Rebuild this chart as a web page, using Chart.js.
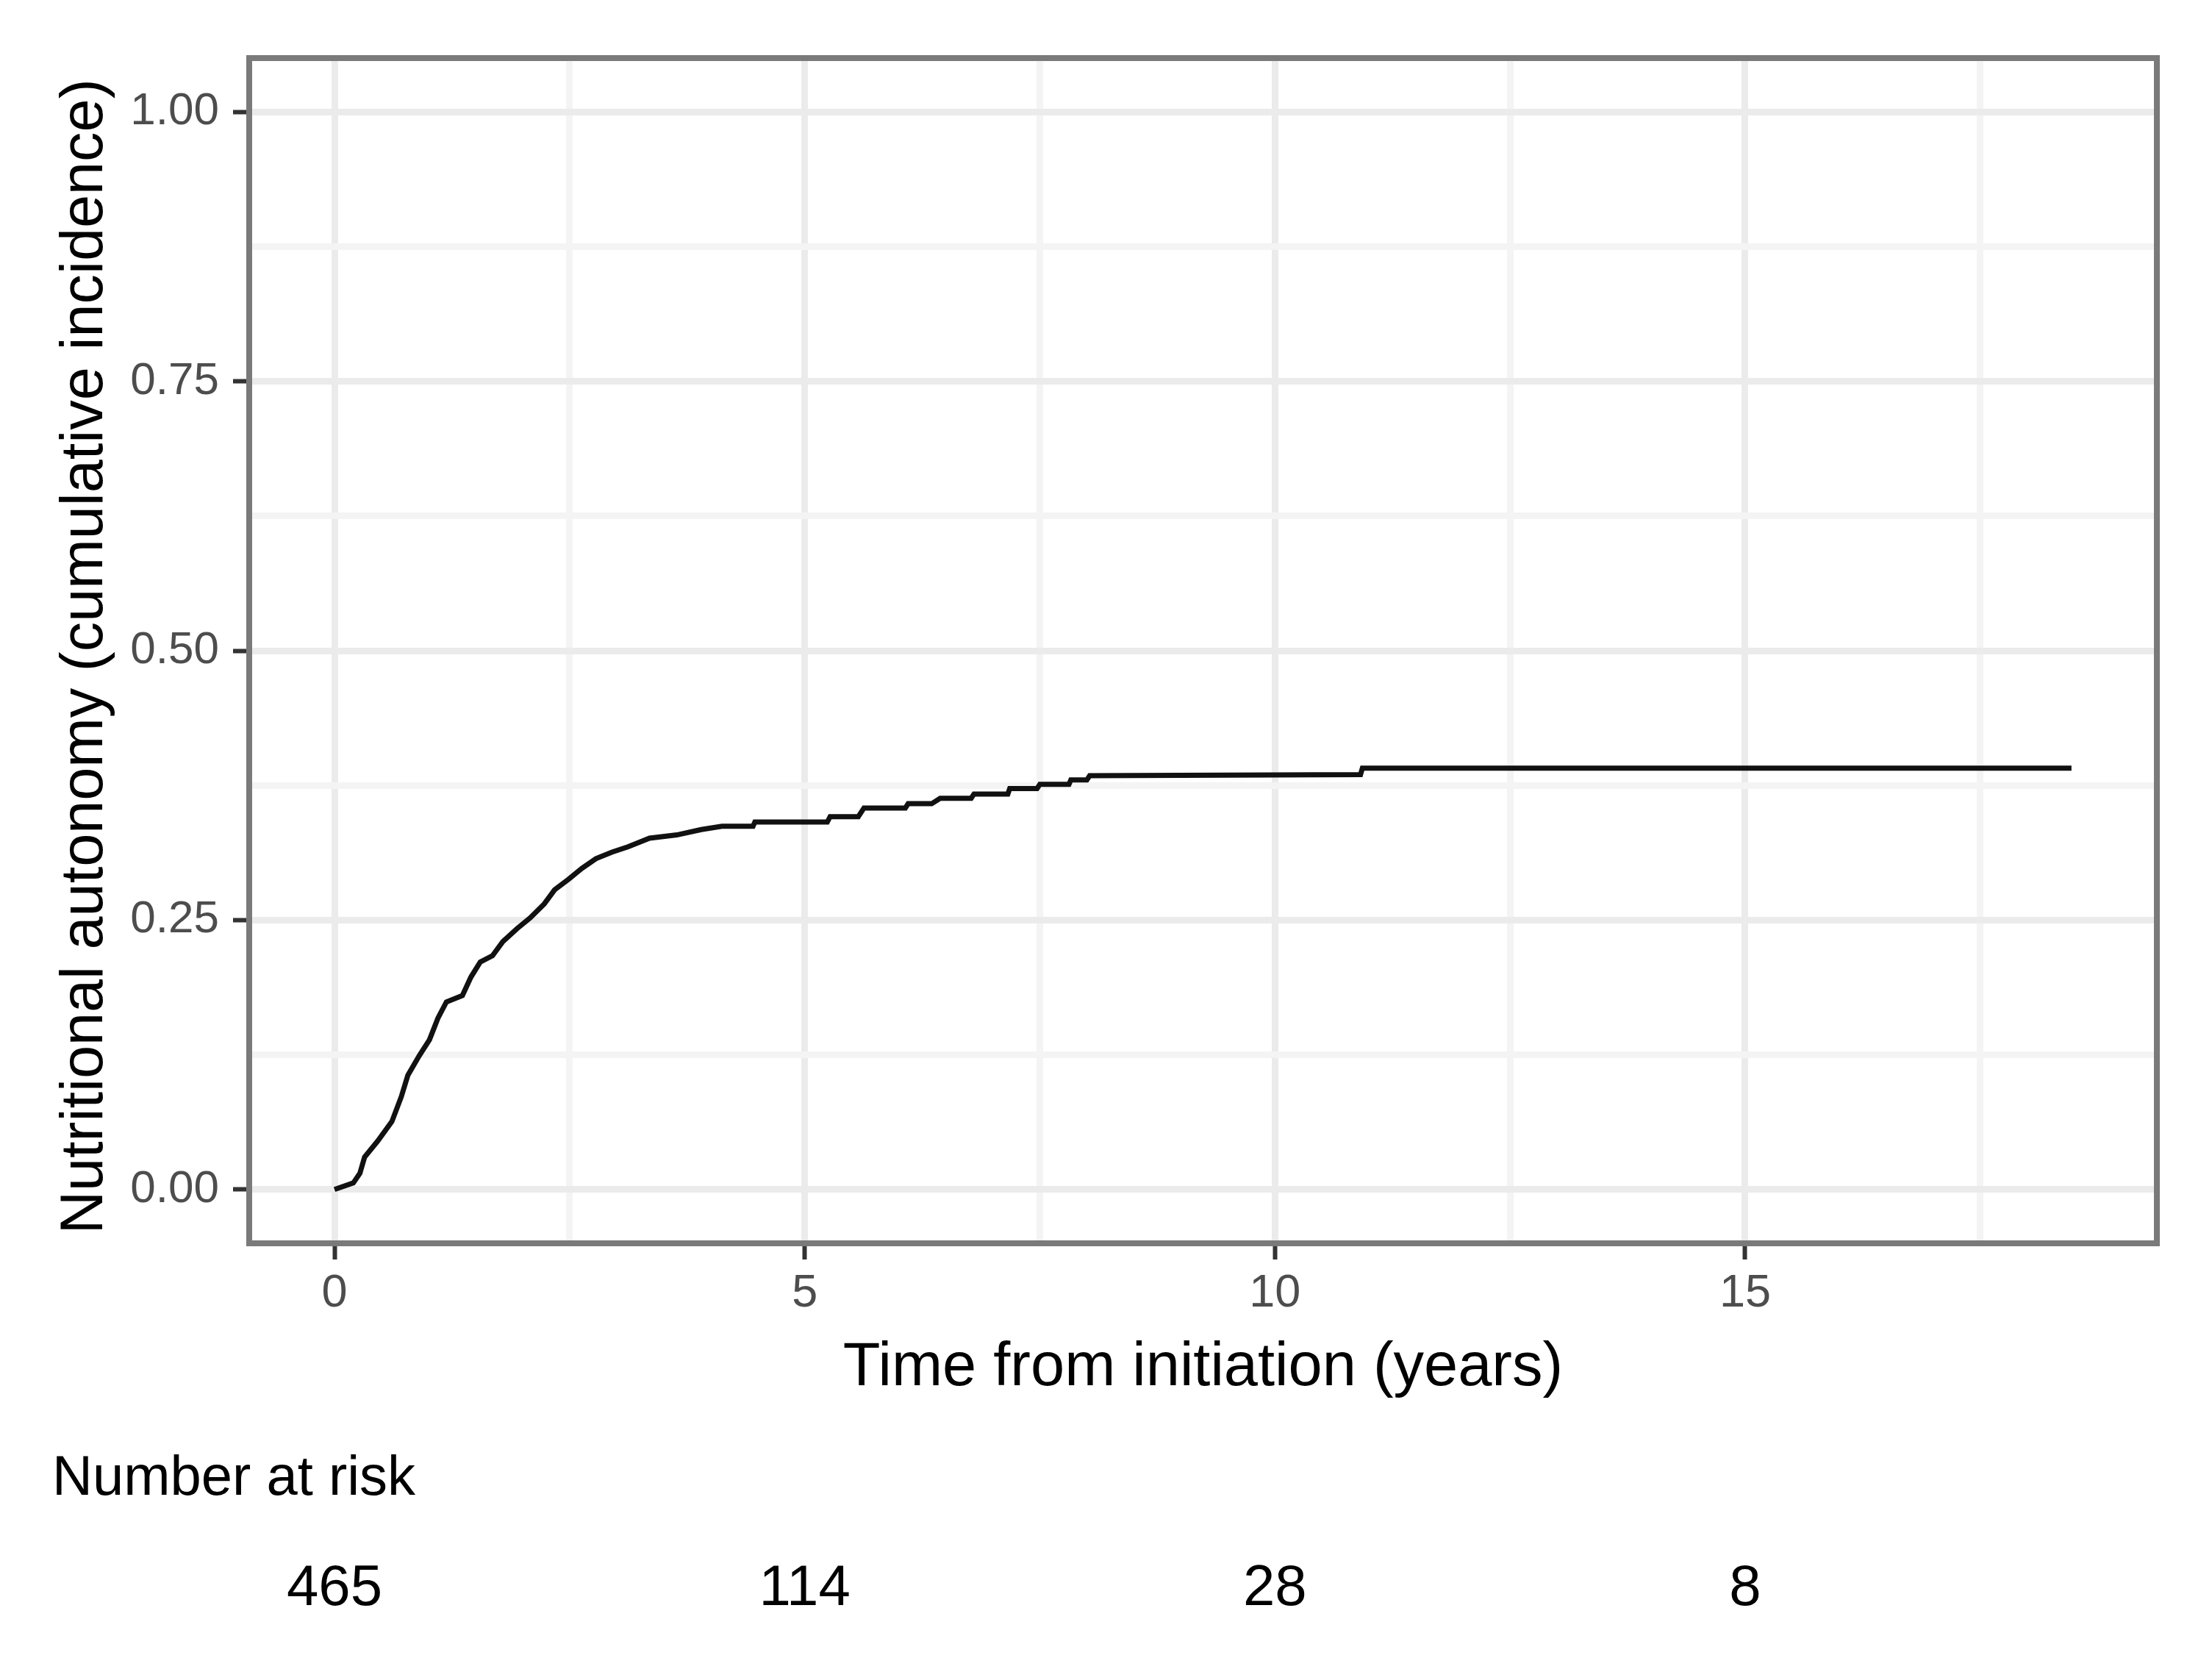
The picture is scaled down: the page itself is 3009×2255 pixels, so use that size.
<!DOCTYPE html>
<html>
<head>
<meta charset="utf-8">
<script src="https://cdn.jsdelivr.net/npm/chart.js@4"></script>
<style>
  html, body { margin: 0; padding: 0; background: #fff; }
  #wrap { width: 3009px; height: 2255px; }
</style>
</head>
<body>
<div id="wrap"><canvas id="grafico" width="3009" height="2255"></canvas></div>
<script>
// cumulative incidence curve (years, cumulative incidence)
const tempos = [0, 0.20, 0.27, 0.32, 0.46, 0.61, 0.71, 0.78, 0.90, 1.01, 1.10, 1.19, 1.36, 1.45, 1.55, 1.68, 1.79, 1.94, 2.08, 2.23, 2.34, 2.49, 2.63, 2.78, 2.95, 3.12, 3.35, 3.64, 3.90, 4.12, 4.45, 4.47, 5.24, 5.27, 5.57, 5.63, 6.07, 6.10, 6.35, 6.44, 6.77, 6.80, 7.16, 7.18, 7.47, 7.50, 7.81, 7.83, 8.00, 8.03, 10.91, 10.93, 18.47];
const incidencia = [0, 0.006, 0.015, 0.030, 0.045, 0.063, 0.086, 0.106, 0.124, 0.139, 0.159, 0.174, 0.180, 0.197, 0.211, 0.217, 0.230, 0.242, 0.252, 0.265, 0.278, 0.288, 0.298, 0.307, 0.313, 0.318, 0.326, 0.329, 0.334, 0.337, 0.337, 0.341, 0.341, 0.346, 0.346, 0.354, 0.354, 0.358, 0.358, 0.363, 0.363, 0.367, 0.367, 0.372, 0.372, 0.376, 0.376, 0.380, 0.380, 0.384, 0.385, 0.391, 0.391];

// number at risk table
const tempoRisco = [0, 5, 10, 15];
const numeroRisco = [465, 114, 28, 8];

// axis ticks (major = labelled, grid = major + minor)
const xMajor = [0, 5, 10, 15];
const xGrid = [0, 2.5, 5, 7.5, 10, 12.5, 15, 17.5];
const yMajor = [0, 0.25, 0.5, 0.75, 1];
const yGrid = [0, 0.125, 0.25, 0.375, 0.5, 0.625, 0.75, 0.875, 1];

const fonte = '"Liberation Sans", Arial, sans-serif';

function ehMajor(lista, v) {
    return lista.some(m => Math.abs(m - v) < 1e-9);
}

const textosExtras = {
    id: "textosExtras",
    afterDraw(chart) {
        const ctx = chart.ctx;
        const area = chart.chartArea;
        const x = chart.scales.x;

        // panel border
        ctx.save();
        ctx.strokeStyle = "#7a7a7a";
        ctx.lineWidth = 8;
        ctx.strokeRect(area.left, area.top, area.right - area.left, area.bottom - area.top);

        ctx.fillStyle = "#000";
        // y title
        ctx.save();
        ctx.translate(139, (area.top + area.bottom) / 2 + 8);
        ctx.rotate(-Math.PI / 2);
        ctx.font = "81px " + fonte;
        ctx.textAlign = "center";
        ctx.textBaseline = "alphabetic";
        ctx.fillText("Nutritional autonomy (cumulative incidence)", 0, 0);
        ctx.restore();

        // x title
        ctx.font = "83px " + fonte;
        ctx.textAlign = "center";
        ctx.textBaseline = "alphabetic";
        ctx.fillText("Time from initiation (years)", (area.left + area.right) / 2, 1884);

        // number at risk
        ctx.font = "76px " + fonte;
        ctx.textAlign = "left";
        ctx.fillText("Number at risk", 71, 2033);
        ctx.font = "78px " + fonte;
        ctx.textAlign = "center";
        tempoRisco.forEach((t, i) => {
            ctx.fillText(String(numeroRisco[i]), x.getPixelForValue(t), 2183);
        });
        ctx.restore();
    }
};

var ctx = document.getElementById("grafico").getContext("2d");
var myChart = new Chart(ctx, {
    type: "line",
    data: {
        datasets: [
            {
                data: tempos.map((t, i) => ({ x: t, y: incidencia[i] })),
                borderColor: "#111",
                borderWidth: 7,
                pointRadius: 0,
                fill: false,
                tension: 0
            }
        ]
    },
    options: {
        responsive: false,
        devicePixelRatio: 1,
        animation: false,
        layout: { padding: { left: 0, top: 79, right: 75, bottom: 0 } },
        plugins: {
            legend: { display: false },
            tooltip: { enabled: false }
        },
        scales: {
            x: {
                type: "linear",
                min: -0.907,
                max: 19.378,
                afterFit: (s) => { s.height = 564; },
                afterBuildTicks: (s) => { s.ticks = xGrid.map(v => ({ value: v })); },
                border: { display: false },
                grid: {
                    color: (c) => ehMajor(xMajor, c.tick.value) ? "#ebebeb" : "#f4f4f4",
                    lineWidth: 9,
                    tickColor: (c) => ehMajor(xMajor, c.tick.value) ? "#333333" : "rgba(0,0,0,0)",
                    tickWidth: 6,
                    tickLength: 22
                },
                ticks: {
                    autoSkip: false,
                    maxRotation: 0,
                    padding: 9,
                    color: "#4d4d4d",
                    font: { family: fonte, size: 63 },
                    callback: (v) => ehMajor(xMajor, v) ? String(v) : ""
                }
            },
            y: {
                type: "linear",
                min: -0.05,
                max: 1.05,
                afterFit: (s) => { s.width = 339; },
                afterBuildTicks: (s) => { s.ticks = yGrid.map(v => ({ value: v })); },
                border: { display: false },
                grid: {
                    color: (c) => ehMajor(yMajor, c.tick.value) ? "#ebebeb" : "#f4f4f4",
                    lineWidth: 9,
                    tickColor: (c) => ehMajor(yMajor, c.tick.value) ? "#333333" : "rgba(0,0,0,0)",
                    tickWidth: 6,
                    tickLength: 22
                },
                ticks: {
                    autoSkip: false,
                    padding: 19,
                    color: "#4d4d4d",
                    font: { family: fonte, size: 62 },
                    callback: (v) => ehMajor(yMajor, v) ? v.toFixed(2) : ""
                }
            }
        }
    },
    plugins: [textosExtras]
});
</script>
</body>
</html>
